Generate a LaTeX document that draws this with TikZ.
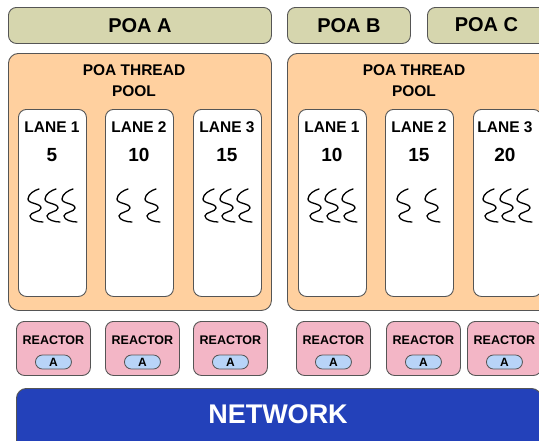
\documentclass[tikz,border=0pt]{standalone}
\usepackage{fontspec}
\setmainfont{Liberation Sans}
\begin{document}
\definecolor{poacol}{HTML}{D6D6AE}
\definecolor{poolcol}{HTML}{FFD09F}
\definecolor{reactcol}{HTML}{F3B6C6}
\definecolor{pillcol}{HTML}{B8D4F8}
\definecolor{netcol}{HTML}{2341BA}
\definecolor{edgecol}{HTML}{555555}
\begin{tikzpicture}[x=1pt,y=-1pt,
  box/.style={draw=edgecol, line width=0.9pt, rounded corners=8pt, inner sep=0pt, anchor=north west},
  poabox/.style={box, fill=poacol, font=\bfseries\fontsize{20}{22}\selectfont},
  poolbox/.style={box, fill=poolcol, rounded corners=10pt},
  lanebox/.style={box, fill=white},
  reactbox/.style={box, fill=reactcol},
  pill/.style={draw=edgecol, line width=0.8pt, fill=pillcol, rounded corners=7pt, minimum width=36pt, minimum height=14pt, inner sep=0pt, font=\bfseries\fontsize{12}{13}\selectfont},
  pooltxt/.style={font=\bfseries\fontsize{15.5}{21}\selectfont, align=center, inner sep=0pt},
  lanetxt/.style={font=\bfseries\fontsize{15.5}{17}\selectfont, inner sep=0pt},
  numtxt/.style={font=\bfseries\fontsize{19}{20}\selectfont, inner sep=0pt},
  reacttxt/.style={font=\bfseries\fontsize{12.5}{13}\selectfont, inner sep=0pt},
  squig/.pic={\draw[line width=1.3pt, line cap=round]
    (4,0) .. controls (0,1) and (-7,5) .. (-7,10)
          .. controls (-7,15) and (6,14) .. (6,19)
          .. controls (6,23) and (-5,23) .. (-5,27)
          .. controls (-5,31) and (3,33) .. (8,33);}
]
\useasboundingbox (0,0) rectangle (539,440);
\clip (0,0) rectangle (539,440);

% POA boxes
\node[poabox, minimum width=263pt, minimum height=36pt] (poaA) at (8,7) {POA A};
\node[poabox, minimum width=123pt, minimum height=36pt] (poaB) at (287,7) {POA B};
\node[poabox, minimum width=120pt, minimum height=36pt] (poaC) at (427,7) {};
\node[font=\bfseries\fontsize{20}{22}\selectfont, inner sep=0pt] (poaCt) at (486.5,25) {POA C};

% Thread pools
\node[poolbox, minimum width=263pt, minimum height=257pt] (poolA) at (8,53) {};
\node[poolbox, minimum width=270pt, minimum height=257pt] (poolB) at (287,53) {};
\node[pooltxt] (poolAt) at (134,81) {POA THREAD\\POOL};
\node[pooltxt] (poolBt) at (414,81) {POA THREAD\\POOL};

% Lanes pool A
\node[lanebox, minimum width=68pt, minimum height=187pt] (a1) at (18,109) {};
\node[lanebox, minimum width=68pt, minimum height=187pt] (a2) at (105,109) {};
\node[lanebox, minimum width=68pt, minimum height=187pt] (a3) at (193,109) {};
% Lanes pool B
\node[lanebox, minimum width=68pt, minimum height=187pt] (b1) at (298,109) {};
\node[lanebox, minimum width=68pt, minimum height=187pt] (b2) at (385,109) {};
\node[lanebox, minimum width=68pt, minimum height=187pt] (b3) at (473,109) {};

% Lane labels
\node[lanetxt] (a1t) at (52,127) {LANE 1};
\node[lanetxt] (a2t) at (139,127) {LANE 2};
\node[lanetxt] (a3t) at (227,127) {LANE 3};
\node[lanetxt] (b1t) at (332,127) {LANE 1};
\node[lanetxt] (b2t) at (419,127) {LANE 2};
\node[lanetxt] (b3t) at (505,127) {LANE 3};

\node[numtxt] (a1n) at (52,155) {5};
\node[numtxt] (a2n) at (139,155) {10};
\node[numtxt] (a3n) at (227,155) {15};
\node[numtxt] (b1n) at (332,155) {10};
\node[numtxt] (b2n) at (419,155) {15};
\node[numtxt] (b3n) at (505,155) {20};

% Squiggles (threads)
\foreach \cx in {35,52,69, 210,227,244, 315,332,349, 490,507,524} {
  \pic at (\cx,189) {squig};
}
\foreach \cx in {124,152, 404,432} {
  \pic at (\cx,189) {squig};
}

% Reactors
\foreach \nm/\xx in {r1/16, r2/105, r3/193, r4/296, r5/386, r6/467} {
  \node[reactbox, minimum width=74pt, minimum height=54pt] (\nm) at (\xx,321) {};
  \node[reacttxt] (\nm t) at (\nm.north |- 0,340) {REACTOR};
  \node[pill] (\nm p) at (\nm.north |- 0,362) {A};
}

% Network
\node[box, fill=netcol, draw=edgecol, rounded corners=10pt, minimum width=525pt, minimum height=70pt] (net) at (16,388) {};
\node[font=\bfseries\fontsize{27}{30}\selectfont, text=white, inner sep=0pt] (nett) at (278,414) {NETWORK};
\end{tikzpicture}
\end{document}
